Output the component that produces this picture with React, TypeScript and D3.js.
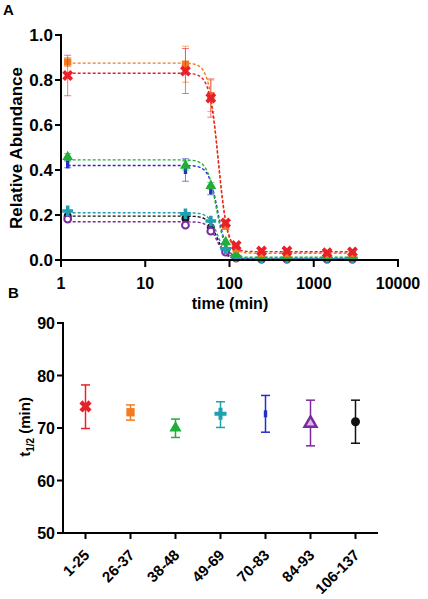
import React from "react";
import * as d3 from "d3";

// ---------- Panel A data ----------
const times = [1.2, 30, 60, 90, 120, 240, 480, 1440, 2880];
const xTicksA = [1, 10, 100, 1000, 10000];
const yTicksA = [0, 0.2, 0.4, 0.6, 0.8, 1.0];

const seriesNames = ["1-25", "26-37", "38-48", "49-69", "70-83", "84-93", "106-137"];
const seriesColors = ["#e8202a", "#f47a20", "#1fae3a", "#1fa0b0", "#2330c8", "#7a2a9c", "#111111"];
const seriesMarkers = ["x", "square", "triangle", "plus", "bar", "circleOpen", "circle"];

const valsRed = [0.82, 0.84, 0.72, 0.165, 0.065, 0.04, 0.04, 0.032, 0.036];
const errRed = [0.09, 0.1, 0.085, 0.01, 0.01, 0.005, 0.005, 0.005, 0.005];
const valsOrange = [0.88, 0.87, 0.73, 0.15, 0.05, 0.03, 0.03, 0.025, 0.03];
const errOrange = [0.02, 0.08, 0.07, 0.01, 0.008, 0.004, 0.004, 0.004, 0.004];
const valsGreen = [0.458, 0.42, 0.33, 0.08, 0.025, 0.015, 0.015, 0.012, 0.015];
const errGreen = [0.015, 0.02, 0.015, 0.01, 0.005, 0.003, 0.003, 0.003, 0.003];
const valsCyan = [0.218, 0.205, 0.173, 0.05, 0.015, 0.008, 0.008, 0.008, 0.008];
const errCyan = [0.008, 0.008, 0.008, 0.005, 0.003, 0.002, 0.002, 0.002, 0.002];
const valsBlue = [0.425, 0.4, 0.31, 0.05, 0.012, 0.008, 0.008, 0.008, 0.008];
const errBlue = [0.015, 0.05, 0.02, 0.008, 0.003, 0.002, 0.002, 0.002, 0.002];
const valsPurple = [0.182, 0.155, 0.128, 0.035, 0.008, 0.004, 0.004, 0.004, 0.004];
const errPurple = [0.006, 0.006, 0.006, 0.004, 0.002, 0.001, 0.001, 0.001, 0.001];
const valsBlack = [0.195, 0.185, 0.145, 0.04, 0.01, 0.005, 0.005, 0.005, 0.005];
const errBlack = [0.006, 0.006, 0.006, 0.004, 0.002, 0.001, 0.001, 0.001, 0.001];

const valsA = [valsRed, valsOrange, valsGreen, valsCyan, valsBlue, valsPurple, valsBlack];
const errsA = [errRed, errOrange, errGreen, errCyan, errBlue, errPurple, errBlack];

// fitted curve parameters (plateau top, bottom, half-life, Hill slope)
const fitTop = [0.83, 0.875, 0.445, 0.21, 0.42, 0.17, 0.195];
const fitBottom = [0.037, 0.03, 0.012, 0.007, 0.007, 0.004, 0.004];
const fitHill = [8, 8, 8, 8, 8, 8, 8];

// ---------- Panel B data ----------
const halfLife = [74.1, 73.0, 70.0, 72.7, 72.7, 70.9, 71.2];
const halfLifeLo = [69.9, 71.5, 68.2, 70.1, 69.2, 66.6, 67.1];
const halfLifeHi = [78.2, 74.4, 71.7, 75.0, 76.2, 75.3, 75.3];
const yTicksB = [50, 60, 70, 80, 90];

const FONT = "'Liberation Sans', Arial, sans-serif";

function Marker({ kind, x, y, color, size }: { kind: string; x: number; y: number; color: string; size: number }) {
  const s = size;
  if (kind === "x") {
    const p = d3.symbol(d3.symbolCross, s * s * 1.15)();
    return <path d={p || ""} transform={`translate(${x},${y}) rotate(45)`} fill={color} />;
  }
  if (kind === "plus") {
    const p = d3.symbol(d3.symbolCross, s * s * 1.0)();
    return <path d={p || ""} transform={`translate(${x},${y})`} fill={color} />;
  }
  if (kind === "square") {
    const p = d3.symbol(d3.symbolSquare, s * s * 0.85)();
    return <path d={p || ""} transform={`translate(${x},${y})`} fill={color} />;
  }
  if (kind === "triangle") {
    const p = d3.symbol(d3.symbolTriangle, s * s * 0.8)();
    return <path d={p || ""} transform={`translate(${x},${y})`} fill={color} />;
  }
  if (kind === "triangleOpen") {
    const p = d3.symbol(d3.symbolTriangle, s * s * 0.75)();
    return <path d={p || ""} transform={`translate(${x},${y})`} fill="#d8b8e8" stroke={color} strokeWidth={2.5} />;
  }
  if (kind === "bar") {
    return <rect x={x - 1.7} y={y - s / 2} width={3.4} height={s} fill={color} />;
  }
  if (kind === "circleOpen") {
    return <circle cx={x} cy={y} r={s / 2 - 0.6} fill="#fff" stroke={color} strokeWidth={2} />;
  }
  return <circle cx={x} cy={y} r={s / 2} fill={color} />;
}

export default function App() {
  // Panel A geometry
  const xA = d3.scaleLog().domain([1, 10000]).range([61, 398]);
  const yA = d3.scaleLinear().domain([0, 1]).range([260, 35]);

  // Panel B geometry
  const xB = d3.scalePoint<string>().domain(seriesNames).range([63, 378]).padding(0.5);
  const yB = d3.scaleLinear().domain([50, 90]).range([533, 323]);

  const tFine = d3.range(0, 201).map((i) => Math.pow(10, Math.log10(1.2) + (i / 200) * (Math.log10(2880) - Math.log10(1.2))));
  const lineA = d3
    .line<number>()
    .x((t) => xA(t))
    .curve(d3.curveLinear);

  const drawOrder = [6, 5, 4, 3, 2, 1, 0];

  return (
    <svg width={428} height={599} style={{ position: "absolute", left: 0, top: 0, background: "#fff" }} fontFamily={FONT}>
      <rect width={428} height={599} fill="#fff" />
      {/* Panel labels */}
      <text x={3} y={15} fontSize={15} fontWeight="bold">A</text>
      <text x={8} y={298} fontSize={15} fontWeight="bold">B</text>

      {/* ---- Panel A ---- */}
      {drawOrder.map((si) => {
        const color = seriesColors[si];
        const f = (t: number) =>
          fitBottom[si] + (fitTop[si] - fitBottom[si]) / (1 + Math.pow(t / halfLife[si], fitHill[si]));
        const path = lineA.y((t) => yA(f(t)))(tFine) || "";
        return (
          <g key={"s" + si}>
            <path d={path} fill="none" stroke={color} strokeWidth={1.4} strokeDasharray="3,2" />
            {times.map((t, i) => {
              const v = valsA[si][i];
              const e = errsA[si][i];
              const cx = xA(t);
              const hasBar = yA(v - e) - yA(v + e) > 6;
              return hasBar ? (
                <g key={"e" + i} stroke={color} strokeOpacity={0.6} strokeWidth={1}>
                  <line x1={cx} x2={cx} y1={yA(v - e)} y2={yA(v + e)} />
                  <line x1={cx - 3.5} x2={cx + 3.5} y1={yA(v - e)} y2={yA(v - e)} />
                  <line x1={cx - 3.5} x2={cx + 3.5} y1={yA(v + e)} y2={yA(v + e)} />
                </g>
              ) : null;
            })}
            {times.map((t, i) => (
              <Marker key={"m" + i} kind={seriesMarkers[si]} x={xA(t)} y={yA(valsA[si][i])} color={color} size={8} />
            ))}
          </g>
        );
      })}

      {/* Axes A */}
      <g stroke="#000" strokeWidth={2}>
        <line x1={61} x2={61} y1={34} y2={261} />
        <line x1={60} x2={399} y1={260} y2={260} />
        {yTicksA.map((v) => (
          <line key={"yta" + v} x1={55} x2={61} y1={yA(v)} y2={yA(v)} />
        ))}
        {xTicksA.map((v) => (
          <line key={"xta" + v} x1={xA(v)} x2={xA(v)} y1={260} y2={267} />
        ))}
      </g>
      {yTicksA.map((v) => (
        <text key={"yla" + v} x={53} y={yA(v) + 6} fontSize={17} fontWeight="bold" textAnchor="end">
          {d3.format(".1f")(v)}
        </text>
      ))}
      {xTicksA.map((v) => (
        <text key={"xla" + v} x={xA(v)} y={289} fontSize={16} fontWeight="bold" textAnchor="middle">
          {String(v)}
        </text>
      ))}
      <text x={230} y={309} fontSize={16} fontWeight="bold" textAnchor="middle">time (min)</text>
      <text transform="translate(22,148) rotate(-90)" fontSize={17} fontWeight="bold" textAnchor="middle">
        Relative Abundance
      </text>

      {/* ---- Panel B ---- */}
      {seriesNames.map((name, i) => {
        const color = seriesColors[i];
        const cx = xB(name) as number;
        const kind = i === 5 ? "triangleOpen" : seriesMarkers[i];
        return (
          <g key={"b" + name}>
            <g stroke={color} strokeWidth={1.5}>
              <line x1={cx} x2={cx} y1={yB(halfLifeLo[i])} y2={yB(halfLifeHi[i])} />
              <line x1={cx - 4.5} x2={cx + 4.5} y1={yB(halfLifeLo[i])} y2={yB(halfLifeLo[i])} />
              <line x1={cx - 4.5} x2={cx + 4.5} y1={yB(halfLifeHi[i])} y2={yB(halfLifeHi[i])} />
            </g>
            <Marker kind={kind} x={cx} y={yB(halfLife[i])} color={color} size={kind === "bar" ? 7 : 9} />
          </g>
        );
      })}
      <g stroke="#000" strokeWidth={2}>
        <line x1={63} x2={63} y1={322} y2={534} />
        <line x1={62} x2={378} y1={533} y2={533} />
        {yTicksB.map((v) => (
          <line key={"ytb" + v} x1={57} x2={63} y1={yB(v)} y2={yB(v)} />
        ))}
        {seriesNames.map((n) => (
          <line key={"xtb" + n} x1={xB(n) as number} x2={xB(n) as number} y1={533} y2={539} />
        ))}
      </g>
      {yTicksB.map((v) => (
        <text key={"ylb" + v} x={55} y={yB(v) + 6} fontSize={16} fontWeight="bold" textAnchor="end">
          {String(v)}
        </text>
      ))}
      {seriesNames.map((n) => (
        <text
          key={"xlb" + n}
          transform={`translate(${(xB(n) as number) + 5},${556}) rotate(-45)`}
          fontSize={15}
          fontWeight="bold"
          textAnchor="end"
        >
          {n}
        </text>
      ))}
      <text transform="translate(30,427) rotate(-90)" fontSize={15} fontWeight="bold" textAnchor="middle">
        <tspan>t</tspan>
        <tspan fontSize={10} dy={4}>1/2</tspan>
        <tspan dy={-4}> (min)</tspan>
      </text>
    </svg>
  );
}
